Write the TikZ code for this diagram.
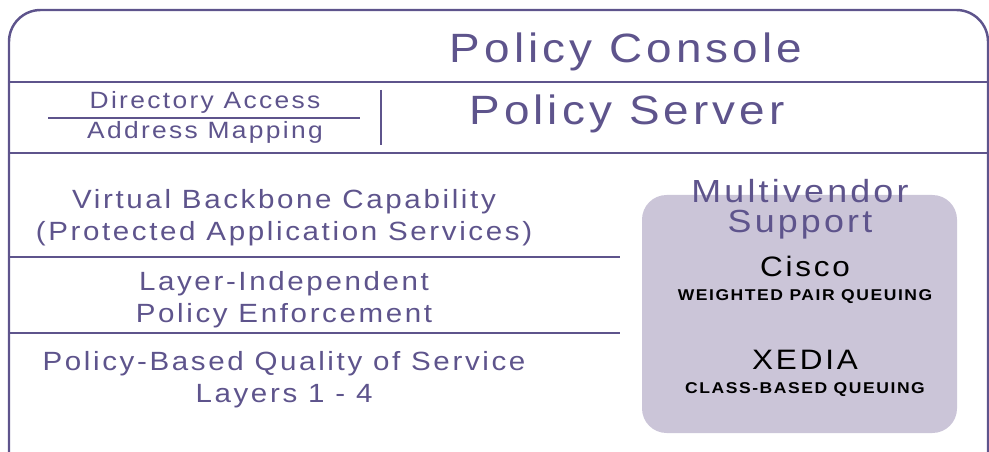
\documentclass[tikz,border=0pt]{standalone}
\usepackage{fontspec}
\newfontfamily\layerfont[LetterSpace=10, FakeStretch=1.12]{Liberation Sans}
\definecolor{layerpurple}{RGB}{94,84,140}
\definecolor{vendorgray}{RGB}{203,197,216}
\tikzstyle{frame} = [draw=layerpurple, line width=1.4pt, rounded corners=18]
\tikzstyle{divider} = [draw=layerpurple, line width=1.2pt]
\tikzstyle{layertext} = [anchor=base, inner sep=0pt, text=layerpurple,
  font=\layerfont\fontsize{15}{18}\selectfont]
\tikzstyle{title} = [layertext, font=\layerfont\fontsize{23.3}{27}\selectfont]
\tikzstyle{subtitle} = [layertext, font=\layerfont\fontsize{13.4}{16}\selectfont]
\tikzstyle{vendor} = [layertext, align=center,
  font=\layerfont\fontsize{18.2}{17.6}\selectfont]
\tikzstyle{product} = [anchor=base, inner sep=0pt, text=black,
  font=\layerfont\fontsize{16}{19}\selectfont]
\tikzstyle{feature} = [anchor=base, inner sep=0pt, text=black,
  font=\layerfont\bfseries\fontsize{8.9}{10}\selectfont]

\begin{document}
\begin{tikzpicture}[x=0.02cm, y=-0.02cm]
  \useasboundingbox (0,0) rectangle (989,452);
  \clip (0,0) rectangle (989,452);

  % outer frame and the two top bands
  \draw [frame] (9,10) rectangle (988,490);
  \draw [divider] (9,82) -- (988,82);
  \draw [divider] (9,153) -- (988,153);
  \draw [divider] (48,118) -- (360,118);
  \draw [divider] (381,90) -- (381,145);
  \draw [divider] (9,257) -- (620,257);
  \draw [divider] (9,333) -- (620,333);

  % vendor box
  \fill [vendorgray, rounded corners=14] (642,195) rectangle (957,433);

  \node (console) [title] at (626,63) {Policy Console};
  \node (server) [title] at (627,125) {Policy Server};
  \node (dir) [subtitle] at (205,109) {Directory Access};
  \node (addr) [subtitle] at (205,139) {Address Mapping};

  \node (backbone) [layertext] at (284,209) {Virtual Backbone Capability};
  \node (protected) [layertext] at (284,241) {(Protected Application Services)};
  \node (independent) [layertext] at (284,290) {Layer-Independent};
  \node (enforce) [layertext] at (284,322) {Policy Enforcement};
  \node (qos) [layertext] at (284,370) {Policy-Based Quality of Service};
  \node (layers) [layertext] at (284,402) {Layers 1 - 4};

  % base is the last line, so this sits on the Support baseline
  \node (multi) [vendor] at (800,233) {Multivendor\\Support};
  \node (cisco) [product] at (805,276) {Cisco};
  \node (wpq) [feature] at (805,300) {WEIGHTED PAIR QUEUING};
  \node (xedia) [product] at (805,369) {XEDIA};
  \node (cbq) [feature] at (805,393) {CLASS-BASED QUEUING};
\end{tikzpicture}
\end{document}
